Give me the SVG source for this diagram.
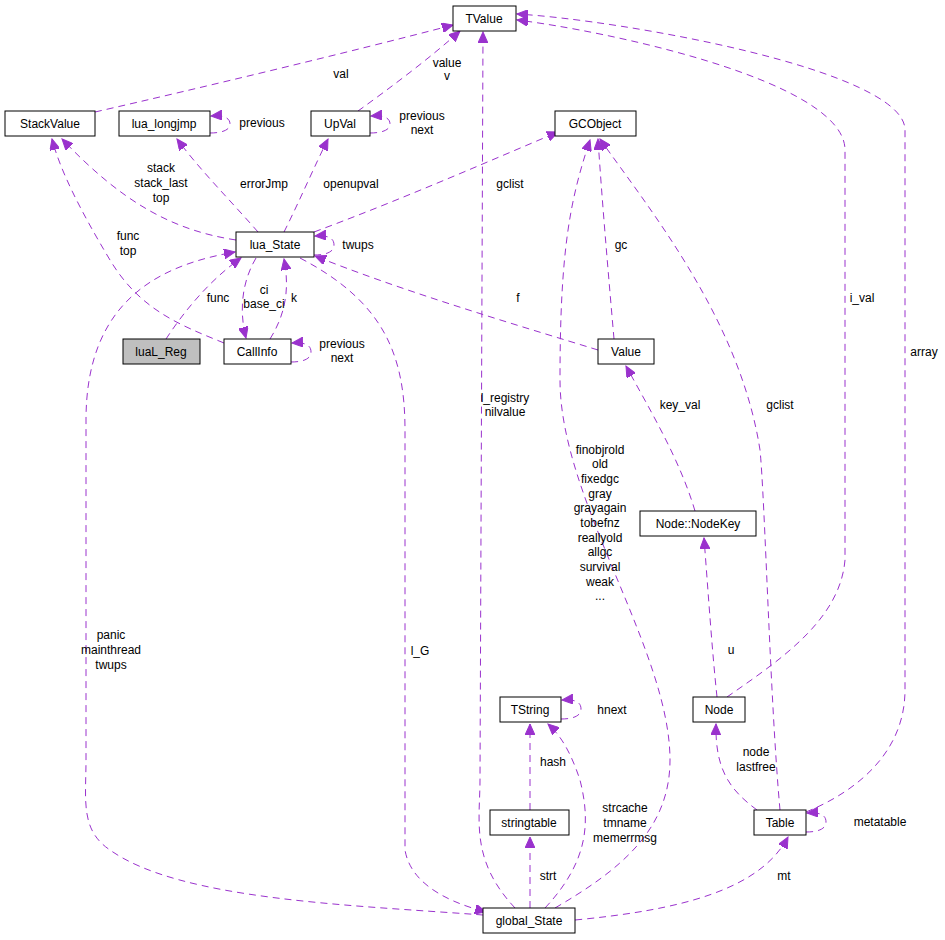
<svg xmlns="http://www.w3.org/2000/svg" width="945" height="940" viewBox="0 0 945 940">
<style>
.n rect{fill:#fff;stroke:#000;stroke-width:1}
text{font-family:"Liberation Sans",Arial,sans-serif;font-size:12px;fill:#000;text-anchor:middle}
.e path{fill:none;stroke:#9a32cd;stroke-width:1;stroke-dasharray:7,5;marker-end:url(#a)}
.l text{font-size:12px}
</style>
<defs><marker id="a" markerUnits="userSpaceOnUse" markerWidth="12" markerHeight="10" refX="11" refY="5" orient="auto"><path d="M0,0L11,5L0,10z" fill="#9a32cd" stroke="#9a32cd"/></marker></defs>
<rect width="945" height="940" fill="#fff"/>
<g class="e">
<path d="M95,112C200,88 350,52 453,25"/>
<path d="M358,111C390,88 430,58 460,31"/>
<path d="M370,133C382,133 390,130 390,124C390,118 384,115 371,116"/>
<path d="M210,133C222,133 230,130 230,124C230,118 224,115 211,116"/>
<path d="M236,240C170,230 120,200 62,139"/>
<path d="M258,232C230,200 200,170 177,139"/>
<path d="M284,232C300,200 315,165 328,139"/>
<path d="M314,232C400,200 480,165 558,132"/>
<path d="M224,343C180,325 140,310 110,260C80,210 60,170 52,139"/>
<path d="M314,255C326,255 334,252 334,245C334,238 328,235 315,236"/>
<path d="M166,339C185,310 210,280 241,258"/>
<path d="M256,258C240,285 240,315 246,338"/>
<path d="M270,339C285,315 290,290 284,259"/>
<path d="M291,362C303,362 311,359 311,352C311,345 305,342 292,343"/>
<path d="M598,350C500,320 400,290 315,256"/>
<path d="M614,339C608,270 602,200 598,139"/>
<path d="M695,511C680,460 650,410 626,366"/>
<path d="M727,697C780,660 840,620 845,560L845,150C845,80 600,30 517,20"/>
<path d="M806,812C860,790 905,750 905,690L905,130C905,70 620,20 517,14"/>
<path d="M780,810C770,700 765,500 760,450C740,320 650,210 600,139"/>
<path d="M717,697C712,650 708,590 704,538"/>
<path d="M757,810C730,790 715,770 716,724"/>
<path d="M806,832C818,832 826,829 826,822C826,815 820,812 807,813"/>
<path d="M575,920C680,910 760,890 788,837"/>
<path d="M545,908C590,860 590,820 580,780C570,750 560,735 548,724"/>
<path d="M530,810L530,724"/>
<path d="M561,719C573,719 581,716 581,709C581,702 575,699 562,700"/>
<path d="M530,908L530,837"/>
<path d="M555,908C620,870 670,830 670,760C670,650 560,500 560,380C560,250 570,200 590,140"/>
<path d="M515,908C470,860 480,820 480,780L483,32"/>
<path d="M300,258C380,300 405,350 405,430L405,850C410,880 440,900 486,912"/>
<path d="M483,915C350,905 180,900 110,850C80,830 86,800 86,760L86,420C86,300 160,265 235,252"/>
</g>
<g class="l">
<text x="341" y="78">val</text>
<text x="447" y="67">value</text><text x="447" y="80">v</text>
<text x="422" y="120">previous</text><text x="422" y="134">next</text>
<text x="262" y="127">previous</text>
<text x="161" y="172">stack</text><text x="161" y="187">stack_last</text><text x="161" y="202">top</text>
<text x="264" y="188">errorJmp</text>
<text x="351" y="188">openupval</text>
<text x="510" y="188">gclist</text>
<text x="128" y="240">func</text><text x="128" y="255">top</text>
<text x="358" y="249">twups</text>
<text x="218" y="302">func</text>
<text x="264" y="294">ci</text><text x="264" y="308">base_ci</text>
<text x="294" y="302">k</text>
<text x="342" y="348">previous</text><text x="342" y="362">next</text>
<text x="518" y="302">f</text>
<text x="621" y="249">gc</text>
<text x="680" y="409">key_val</text>
<text x="862" y="302">i_val</text>
<text x="924" y="356">array</text>
<text x="780" y="409">gclist</text>
<text x="731" y="654">u</text>
<text x="756" y="756">node</text><text x="756" y="771">lastfree</text>
<text x="880" y="826">metatable</text>
<text x="784" y="880">mt</text>
<text x="625" y="812">strcache</text><text x="625" y="827">tmname</text><text x="625" y="842">memerrmsg</text>
<text x="553" y="766">hash</text>
<text x="612" y="714">hnext</text>
<text x="548" y="880">strt</text>
<text x="600" y="454">finobjrold</text><text x="600" y="468">old</text><text x="600" y="483">fixedgc</text><text x="600" y="498">gray</text><text x="600" y="512">grayagain</text><text x="600" y="527">tobefnz</text><text x="600" y="542">reallyold</text><text x="600" y="556">allgc</text><text x="600" y="571">survival</text><text x="600" y="586">weak</text><text x="600" y="600">...</text>
<text x="505" y="402">l_registry</text><text x="505" y="416">nilvalue</text>
<text x="420" y="655">l_G</text>
<text x="111" y="639">panic</text><text x="111" y="654">mainthread</text><text x="111" y="669">twups</text>
</g>
<g class="n">
<g id="TValue"><rect x="453" y="6" width="63" height="25"/><text x="484" y="23">TValue</text></g>
<g id="StackValue"><rect x="5" y="111" width="90" height="25"/><text x="50" y="128">StackValue</text></g>
<g id="lua_longjmp"><rect x="119" y="111" width="91" height="25"/><text x="164" y="128">lua_longjmp</text></g>
<g id="UpVal"><rect x="311" y="111" width="59" height="25"/><text x="340" y="128">UpVal</text></g>
<g id="GCObject"><rect x="555" y="111" width="81" height="25"/><text x="595" y="128">GCObject</text></g>
<g id="lua_State"><rect x="236" y="232" width="78" height="25"/><text x="275" y="249">lua_State</text></g>
<g id="luaL_Reg"><rect x="123" y="339" width="77" height="25" style="fill:#bfbfbf"/><text x="161" y="356">luaL_Reg</text></g>
<g id="CallInfo"><rect x="224" y="339" width="67" height="25"/><text x="257" y="356">CallInfo</text></g>
<g id="Value"><rect x="598" y="339" width="56" height="25"/><text x="626" y="356">Value</text></g>
<g id="NodeKey"><rect x="640" y="511" width="116" height="25"/><text x="698" y="528">Node::NodeKey</text></g>
<g id="TString"><rect x="500" y="697" width="61" height="25"/><text x="530" y="714">TString</text></g>
<g id="Node"><rect x="693" y="697" width="52" height="25"/><text x="719" y="714">Node</text></g>
<g id="stringtable"><rect x="490" y="810" width="79" height="25"/><text x="529" y="827">stringtable</text></g>
<g id="Table"><rect x="754" y="810" width="52" height="25"/><text x="780" y="827">Table</text></g>
<g id="global_State"><rect x="483" y="908" width="92" height="25"/><text x="529" y="925">global_State</text></g>
</g>
</svg>
